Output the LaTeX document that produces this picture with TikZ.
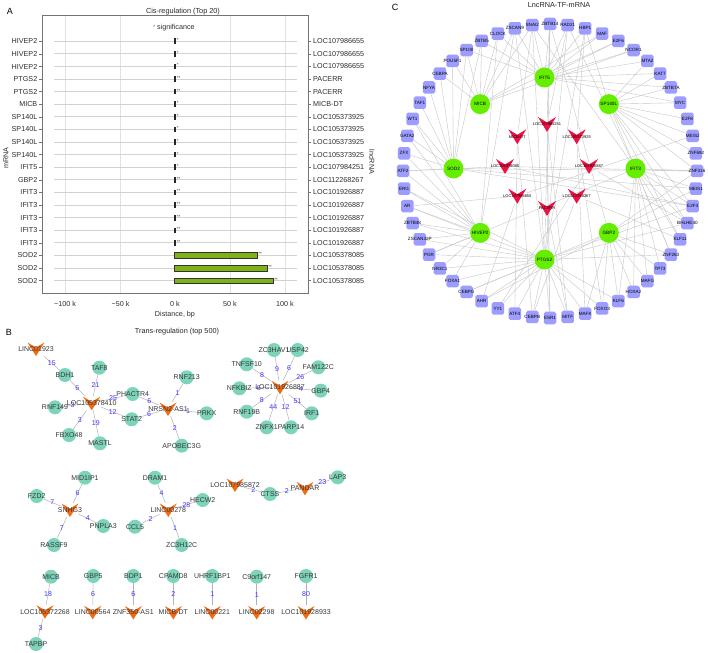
\documentclass[tikz,border=0pt]{standalone}
\usepackage{fontspec}
\setmainfont{Liberation Sans}
\usetikzlibrary{backgrounds}
\definecolor{tealn}{HTML}{7ED4BB}
\definecolor{orng}{HTML}{F26A12}
\definecolor{limen}{HTML}{66EE00}
\definecolor{purp}{HTML}{9D9DFF}
\definecolor{redn}{HTML}{EE1144}
\definecolor{barg}{HTML}{7DB316}
\definecolor{numb}{HTML}{4433FF}
\definecolor{rowg}{HTML}{D2D2D2}
\definecolor{gridg}{HTML}{E2E2E2}
\begin{document}
\begin{tikzpicture}[x=1pt,y=-1pt,
  txt/.style={font=\fontsize{7.2}{8}\selectfont, inner sep=0pt, text=black!82},
  ttl/.style={font=\fontsize{7.3}{8}\selectfont, inner sep=0pt, text=black!85},
  plab/.style={font=\fontsize{9}{10}\selectfont, inner sep=0pt},
  rowline/.style={rowg, line width=0.9pt},
  tinyb/.style={fill=black!85, draw=none},
  bigb/.style={fill=barg, draw=black!80, line width=0.6pt},
  ast/.style={font=\fontsize{4.5}{5}\selectfont, inner sep=0pt, anchor=west, text=black!80},
  bnode/.style={circle, fill=tealn, minimum size=14pt, inner sep=0pt},
  blab/.style={font=\fontsize{7}{8}\selectfont, inner sep=0pt, text=black!78},
  bn/.style={bnode, label={[blab]center:#1}},
  bchev/.style={rectangle, minimum width=17pt, minimum height=14pt, inner sep=0pt,
     path picture={\fill[orng, shift={(path picture bounding box.center)}] (-8.5,-6.5) -- (0,-1.5) -- (8.5,-6.5) -- (0,7) -- cycle;}},
  bc/.style={bchev, label={[blab]center:#1}},
  bedge/.style={draw=black!30, line width=0.5pt},
  elab/.style={font=\fontsize{7}{8}\selectfont, inner sep=0pt, text=numb},
  cgreen/.style={circle, fill=limen, minimum size=20pt, inner sep=0pt},
  cglab/.style={font=\fontsize{4.7}{5}\selectfont, inner sep=0pt},
  cred/.style={rectangle, minimum width=18pt, minimum height=15pt, inner sep=0pt,
     path picture={\fill[redn, shift={(path picture bounding box.center)}] (-9,-7.5) -- (0,-2) -- (9,-7.5) -- (0,7.5) -- cycle;}},
  crlab/.style={font=\fontsize{4}{5}\selectfont, inner sep=0pt},
  ctf/.style={rectangle, rounded corners=1.8pt, fill=purp, minimum size=12.5pt, inner sep=0pt},
  ctlab/.style={font=\fontsize{4.6}{5}\selectfont, inner sep=0pt},
  cedge/.style={draw=black!22, line width=0.4pt},
]
\useasboundingbox (0,0) rectangle (708,652);
\begin{pgfonlayer}{background}
\fill[white] (0,0) rectangle (708,652);
\end{pgfonlayer}

%================ Panel A ================
\node[plab] (lA) at (10,11) {A};
\node[ttl] (tA) at (183,12) {Cis-regulation (Top 20)};
\foreach \gx in {65,120.5,230,285} \draw[gridg, line width=0.8pt] (\gx,15) -- (\gx,293);
\draw[black!55, line width=0.7pt] (42,15) rectangle (308,293);
\node[txt] (sig) at (174,28) {{\fontsize{4.5}{5}\selectfont\raisebox{1pt}{*}} significance};
\foreach \lab/\rlab/\st/\sty/\ex [count=\i from 0] in {
  HIVEP2/LOC107986655/*/tinyb/175.8, HIVEP2/LOC107986655/*/tinyb/175.8, HIVEP2/LOC107986655/*/tinyb/175.8,
  PTGS2/PACERR/**/tinyb/175.8, PTGS2/PACERR/**/tinyb/175.8, MICB/MICB-DT/*/tinyb/175.8,
  SP140L/LOC105373925/*/tinyb/175.8, SP140L/LOC105373925/*/tinyb/175.8, SP140L/LOC105373925/*/tinyb/175.8, SP140L/LOC105373925/*/tinyb/175.8,
  IFIT5/LOC107984251/*/tinyb/175.8, GBP2/LOC112268267/**/tinyb/175.8,
  IFIT3/LOC101926887/**/tinyb/175.8, IFIT3/LOC101926887/**/tinyb/175.8, IFIT3/LOC101926887/**/tinyb/175.8, IFIT3/LOC101926887/**/tinyb/175.8, IFIT3/LOC101926887/**/tinyb/175.8,
  SOD2/LOC105378085/**/bigb/257.3, SOD2/LOC105378085/**/bigb/267.3, SOD2/LOC105378085/**/bigb/273.3} {
  \pgfmathsetmacro\yy{41.3+\i*12.6}
  \draw[rowline] (54,\yy) -- (297,\yy);
  \draw[black!55, line width=0.6pt] (39,\yy) -- (42,\yy);
  \draw[black!55, line width=0.6pt] (308,\yy) -- (311,\yy);
  \node[txt, anchor=east] (ml\i) at (37.5,\yy) {\lab};
  \node[txt, anchor=west] (ll\i) at (313,\yy) {\rlab};
  \path[\sty] (174.4,\yy-2.8) rectangle (\ex,\yy+2.8);
  \node[ast] (as\i) at (\ex+0.8,\yy-1.2) {\st};
}
\foreach \gx/\gl [count=\j] in {65/−100 k, 120.5/−50 k, 175/0 k, 230/50 k, 285/100 k}
  \node[txt] (tk\j) at (\gx,304) {\gl};
\node[txt] (xlab) at (175,315) {Distance, bp};
\node[txt, rotate=90] (ylab) at (6,158) {mRNA};
\node[txt, rotate=-90] (rlab) at (372,162) {lncRNA};

%================ Panel B ================
\node[plab] (lB) at (9,332) {B};
\node[ttl] (tB) at (177,332) {Trans-regulation (top 500)};
% cluster 1
\node[bc=LINC01923] (bLINC01923) at (36,349) {};
\node[bn=BDH1] (bBDH1) at (65,375) {};
\node[bn=TAF8] (bTAF8) at (99.3,367.7) {};
\node[bn=RNF213] (bRNF213) at (186.7,377.3) {};
\node[bn=PHACTR4] (bPHACTR4) at (132.7,394) {};
\node[bn=RNF149] (bRNF149) at (55,407.3) {};
\node[bn=PRKX] (bPRKX) at (206.7,413.3) {};
\node[bn=STAT2] (bSTAT2) at (131.7,419.3) {};
\node[bn=FBXO48] (bFBXO48) at (69,435) {};
\node[bn=MASTL] (bMASTL) at (100,443.3) {};
\node[bn=APOBEC3G] (bAPOBEC3G) at (181.7,445.7) {};
\node[bc=LOC105378410] (bLOC105378410) at (91.7,403.3) {};
\node[bc=NRSN2-AS1] (bNRSN2-AS1) at (168,409) {};
% cluster 2
\node[bn=ZC3HAV1] (bZC3HAV1) at (274,350) {};
\node[bn=USP42] (bUSP42) at (297.7,350) {};
\node[bn=TNFSF10] (bTNFSF10) at (246.7,364.3) {};
\node[bn=FAM122C] (bFAM122C) at (318.3,367.3) {};
\node[bn=NFKBIZ] (bNFKBIZ) at (239.3,388.3) {};
\node[bn=GBP4] (bGBP4) at (320.7,390.7) {};
\node[bn=RNF19B] (bRNF19B) at (246.7,411.7) {};
\node[bn=IRF1] (bIRF1) at (311.7,413.3) {};
\node[bn=ZNFX1] (bZNFX1) at (266.7,427.3) {};
\node[bn=PARP14] (bPARP14) at (291,427.3) {};
\node[bc=LOC101926887] (bLOC101926887) at (280,387.3) {};
% cluster 3
\node[bn=MID1IP1] (bMID1IP1) at (85,477.7) {};
\node[bn=FZD2] (bFZD2) at (36.7,496) {};
\node[bn=PNPLA3] (bPNPLA3) at (103.3,526) {};
\node[bn=RASSF9] (bRASSF9) at (54,545) {};
\node[bc=SNHG3] (bSNHG3) at (70,510) {};
\node[bn=DRAM1] (bDRAM1) at (155,477.7) {};
\node[bn=HECW2] (bHECW2) at (202.7,500) {};
\node[bn=CCL5] (bCCL5) at (135,526.7) {};
\node[bn=ZC3H12C] (bZC3H12C) at (181.7,545) {};
\node[bc=LINC00278] (bLINC00278) at (168.3,510) {};
\node[bc=LOC107985872] (bLOC107985872) at (235,485) {};
\node[bn=CTSS] (bCTSS) at (270,494) {};
\node[bc=PANDAR] (bPANDAR) at (305,488.3) {};
\node[bn=LAP3] (bLAP3) at (337.7,477.3) {};
% bottom row
\node[bn=MICB] (bMICB) at (51,576.7) {};
\node[bc=LOC105372268] (bLOC105372268) at (45,611.7) {};
\node[bn=TAPBP] (bTAPBP) at (36,644) {};
\node[bn=GBP5] (bGBP5) at (93.3,576) {};
\node[bc=LINC00564] (bLINC00564) at (92.7,612.3) {};
\node[bn=BDP1] (bBDP1) at (133.3,576) {};
\node[bc=ZNF350-AS1] (bZNF350-AS1) at (133.3,612.5) {};
\node[bn=CPAMD8] (bCPAMD8) at (173.3,576) {};
\node[bc=MICB-DT] (bMICB-DT) at (173.3,612.5) {};
\node[bn=UHRF1BP1] (bUHRF1BP1) at (212.3,576) {};
\node[bc=LINC00221] (bLINC00221) at (212.3,612.5) {};
\node[bn=C9orf147] (bC9orf147) at (256.7,576.7) {};
\node[bc=LINC02298] (bLINC02298) at (256.7,612.5) {};
\node[bn=FGFR1] (bFGFR1) at (306,576) {};
\node[bc=LOC101928933] (bLOC101928933) at (306,612.5) {};

\begin{pgfonlayer}{background}
\foreach \a/\b/\w in {LINC01923/BDH1/15, LOC105378410/BDH1/6, LOC105378410/TAF8/21, LOC105378410/PHACTR4/25,
  LOC105378410/RNF149/3, LOC105378410/STAT2/12, LOC105378410/FBXO48/3, LOC105378410/MASTL/19,
  NRSN2-AS1/PHACTR4/6, NRSN2-AS1/STAT2/6, NRSN2-AS1/RNF213/1, NRSN2-AS1/PRKX/1, NRSN2-AS1/APOBEC3G/2,
  LOC101926887/ZC3HAV1/9, LOC101926887/USP42/6, LOC101926887/TNFSF10/8, LOC101926887/FAM122C/26,
  LOC101926887/NFKBIZ/6, LOC101926887/GBP4/4, LOC101926887/RNF19B/8, LOC101926887/IRF1/51,
  LOC101926887/ZNFX1/44, LOC101926887/PARP14/12,
  SNHG3/MID1IP1/6, SNHG3/FZD2/7, SNHG3/PNPLA3/4, SNHG3/RASSF9/7,
  LINC00278/DRAM1/4, LINC00278/HECW2/28, LINC00278/CCL5/2, LINC00278/ZC3H12C/1,
  LOC107985872/CTSS/2, PANDAR/CTSS/2, PANDAR/LAP3/23,
  LOC105372268/MICB/18, LOC105372268/TAPBP/3,
  LINC00564/GBP5/6, ZNF350-AS1/BDP1/6, MICB-DT/CPAMD8/2, LINC00221/UHRF1BP1/1,
  LINC02298/C9orf147/1, LOC101928933/FGFR1/80}
  \draw[bedge] (b\a) -- node[elab] {\w} (b\b);
\end{pgfonlayer}

%================ Panel C ================
\node[plab] (lC) at (395,7) {C};
\node[ttl] (tC) at (559,5.5) {LncRNA-TF-mRNA};
\foreach \n/\a in {IFIT5/90, SP140L/45, IFIT3/0, GBP2/-45, PTGS2/-90, HIVEP2/-135, SOD2/180, MICB/135}
  \node[cgreen, label={[cglab]center:\n}] (c\n) at ({544.5+91*cos(\a)},{168.5-91*sin(\a)}) {};
\foreach \n/\a in {LOC107984251/90, LOC105373925/45, LOC101926887/0, LOC112268267/-45, PACERR/-90, LOC107986655/-135, LOC105378085/180, MICB-DT/135}
  \node[cred, label={[crlab]center:\n}] (r\n) at ({547+42*cos(\a)},{166.5-42*sin(\a)}) {};
\foreach \n [count=\k from 0] in {ZBTB14,RAD21,HBP1,MAF,E2F6,NCOR1,MTA2,KAT7,ZBTB7A,MYC,E2F8,MEIS2,ZNF692,ZNF316,MEIS1,E2F3,BHLHE40,KLF11,ZNF263,TP73,MAFG,HOXA2,KLF6,FOXO3,MAFK,MITF,ESR1,CEBPB,ATF4,YY1,AHR,CEBPG,FOXA1,NR3C1,PGR,ZSCAN32P,ZBTB48,AR,ERG,ATF2,ZFX,GATA2,WT1,TAF1,NFYA,CEBPA,POU5F1,SP100,ZBTB5,CLOCK,ZSCAN9,SNAI2} {
  \pgfmathsetmacro\ang{90-\k*6.9230769}
  \node[ctf, label={[ctlab]center:\n}] (t\n) at ({550+147*cos(\ang)},{171-147*sin(\ang)}) {};
}
\begin{pgfonlayer}{background}
\foreach \a/\b in {
  cIFIT5/tZSCAN9, cIFIT5/tSNAI2, cIFIT5/tZBTB14, cIFIT5/tRAD21, cIFIT5/tHBP1, cIFIT5/tMAF, cIFIT5/tE2F6, cIFIT5/tNCOR1,
  cIFIT5/tMTA2, cIFIT5/tKAT7, cIFIT5/tZBTB7A, cIFIT5/tCLOCK, cIFIT5/tZBTB5, cIFIT5/tSP100, cIFIT5/tMYC,
  cMICB/tSP100, cMICB/tPOU5F1, cMICB/tCEBPA, cMICB/tZSCAN9, cMICB/tSNAI2, cMICB/tCLOCK, cMICB/tMAF, cMICB/tE2F6, cMICB/tNCOR1, cMICB/tZBTB5,
  cSP140L/tMYC, cSP140L/tE2F8, cSP140L/tMEIS2, cSP140L/tZNF692, cSP140L/tKAT7, cSP140L/tZBTB7A, cSP140L/tE2F3,
  cSP140L/tBHLHE40, cSP140L/tKLF11, cSP140L/tZNF263, cSP140L/tZNF316, cSP140L/tMTA2, cSP140L/tHBP1,
  cSOD2/tGATA2, cSOD2/tWT1, cSOD2/tTAF1, cSOD2/tNFYA, cSOD2/tZFX, cSOD2/tATF2, cSOD2/tCEBPA, cSOD2/tPOU5F1,
  cSOD2/tSP100, cSOD2/tZNF316, cSOD2/tE2F3, cSOD2/tMEIS1, cSOD2/tZBTB5,
  cIFIT3/tZNF316, cIFIT3/tMEIS1, cIFIT3/tE2F3, cIFIT3/tBHLHE40, cIFIT3/tKLF11, cIFIT3/tZNF263, cIFIT3/tTP73,
  cIFIT3/tMAFG, cIFIT3/tHOXA2, cIFIT3/tKLF6, cIFIT3/tSNAI2, cIFIT3/tRAD21, cIFIT3/tPGR,
  cHIVEP2/tAR, cHIVEP2/tERG, cHIVEP2/tZBTB48, cHIVEP2/tZSCAN32P, cHIVEP2/tPGR, cHIVEP2/tNR3C1, cHIVEP2/tFOXA1,
  cHIVEP2/tATF2, cHIVEP2/tZFX, cHIVEP2/tGATA2, cHIVEP2/tWT1, cHIVEP2/tCLOCK, cHIVEP2/tZSCAN9,
  cGBP2/tTP73, cGBP2/tMAFG, cGBP2/tHOXA2, cGBP2/tKLF6, cGBP2/tFOXO3, cGBP2/tMAFK, cGBP2/tMEIS1, cGBP2/tZNF263,
  cGBP2/tZNF316, cGBP2/tAHR, cGBP2/tCEBPG, cGBP2/tZBTB14,
  cPTGS2/tCEBPG, cPTGS2/tAHR, cPTGS2/tYY1, cPTGS2/tATF4, cPTGS2/tCEBPB, cPTGS2/tESR1, cPTGS2/tMITF, cPTGS2/tMAFK,
  cPTGS2/tFOXO3, cPTGS2/tKLF6, cPTGS2/tZSCAN32P, cPTGS2/tPGR, cPTGS2/tNR3C1, cPTGS2/tFOXA1, cPTGS2/tZBTB48,
  cPTGS2/tAR, cPTGS2/tERG, cPTGS2/tZNF263, cPTGS2/tZSCAN9, cPTGS2/tSNAI2, cPTGS2/tZBTB14, cPTGS2/tRAD21,
  cPTGS2/tHBP1, cPTGS2/tBHLHE40, cPTGS2/tE2F3,
  rLOC107984251/tZBTB14, rLOC107984251/tRAD21, rLOC107984251/tESR1, rLOC107984251/tMITF,
  rMICB-DT/tSNAI2, rMICB-DT/tATF4, rMICB-DT/tCEBPB,
  rLOC105373925/tHBP1, rLOC105373925/tMAFK, rLOC105373925/tFOXO3,
  rLOC105378085/tATF2, rLOC105378085/tE2F3, rLOC105378085/tZNF316,
  rLOC101926887/tBHLHE40, rLOC101926887/tYY1,
  rLOC107986655/tAR, rLOC107986655/tMEIS2, rLOC107986655/tAHR,
  rLOC112268267/tKLF11, rLOC112268267/tCEBPB,
  rPACERR/tESR1, rPACERR/tMITF, rPACERR/tZBTB14}
  \draw[cedge] (\a) -- (\b);
\end{pgfonlayer}
\end{tikzpicture}
\end{document}
